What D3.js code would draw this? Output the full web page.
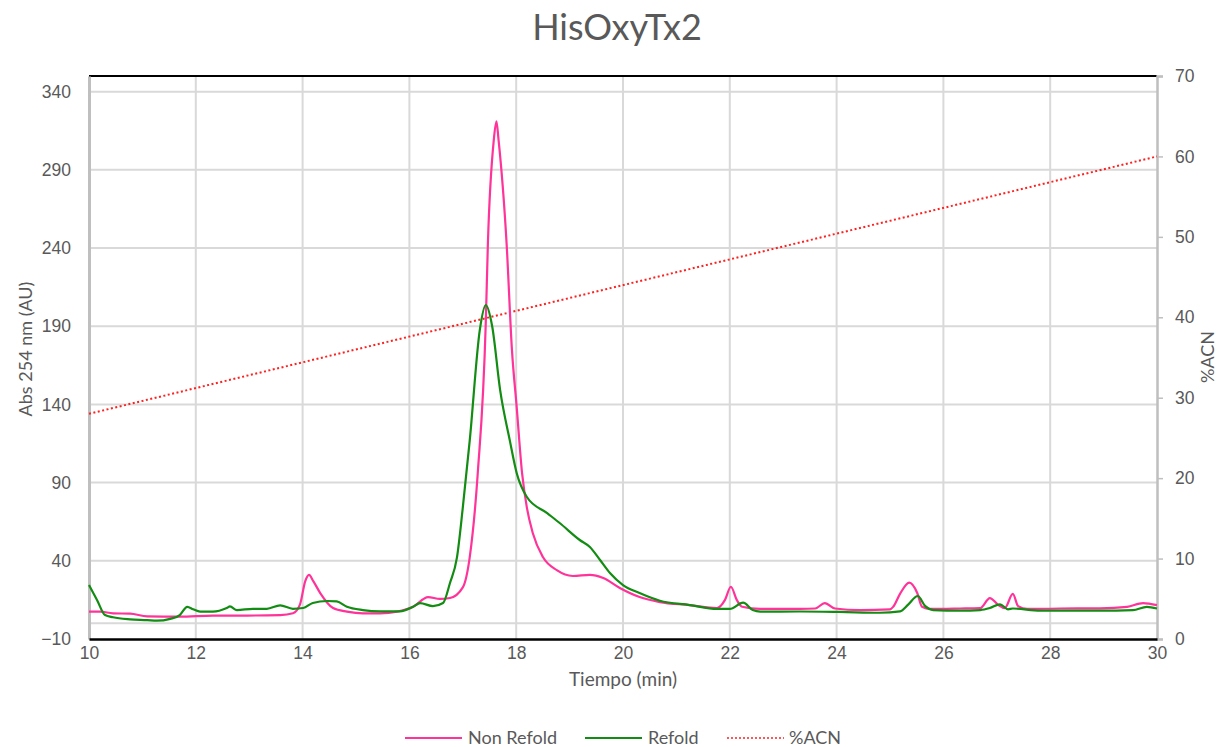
<!DOCTYPE html>
<html>
<head>
<meta charset="utf-8">
<script src="https://cdn.jsdelivr.net/npm/d3@7"></script>
<style>
  html, body { margin: 0; padding: 0; background: #fff; }
  svg { display: block; font-family: Lato, "Open Sans", sans-serif; }
</style>
</head>
<body>
<svg id="chart" width="1225" height="747"></svg>
<script>
// Retention time (min) and absorbance at 254 nm for each run
const nonRefoldTime = [10.00, 10.21, 10.45, 10.77, 11.09, 11.70, 12.32, 12.96, 13.58, 13.82, 13.95, 14.05, 14.12, 14.20, 14.33, 14.57, 14.83, 15.13, 15.45, 15.77, 16.07, 16.35, 16.57, 16.76, 17.00, 17.13, 17.28, 17.43, 17.47, 17.58, 17.63, 17.67, 17.82, 17.92, 18.01, 18.11, 18.20, 18.31, 18.50, 18.76, 19.06, 19.38, 19.63, 19.94, 20.31, 20.69, 21.25, 21.76, 21.91, 22.02, 22.13, 22.23, 22.57, 23.31, 23.60, 23.78, 23.97, 24.44, 25.00, 25.06, 25.19, 25.36, 25.51, 25.60, 25.75, 26.31, 26.69, 26.87, 27.02, 27.15, 27.30, 27.40, 27.57, 28.18, 28.93, 29.44, 29.74, 30.00];
const nonRefoldAbs  = [7.5, 7.5, 6.4, 6.2, 4.5, 4.3, 5.0, 5.0, 5.3, 6.5, 12, 27, 31, 27, 19.4, 9.8, 7.5, 6.4, 6.4, 7.5, 10.6, 16.8, 15.6, 16.2, 23, 42.4, 96, 192, 243, 309, 321, 309, 243, 175, 138, 96, 74, 57.8, 42.4, 34, 30.3, 31, 29, 22.6, 16.8, 13.6, 11.7, 9.8, 15, 23.4, 15, 10.6, 9.2, 9.2, 9.5, 13, 9.5, 8.5, 9, 10.6, 19, 26, 19.4, 10.6, 9.2, 9.5, 9.8, 16.2, 12, 9.8, 18.8, 11, 9.2, 9.5, 9.6, 10.6, 13, 11.7];

const refoldTime = [10.00, 10.15, 10.30, 10.45, 10.77, 11.09, 11.27, 11.52, 11.70, 11.84, 11.95, 12.08, 12.32, 12.58, 12.64, 12.77, 13.07, 13.33, 13.58, 13.82, 14.01, 14.19, 14.46, 14.64, 14.83, 15.13, 15.45, 15.82, 16.07, 16.20, 16.44, 16.63, 16.76, 16.89, 17.00, 17.13, 17.32, 17.43, 17.55, 17.70, 17.88, 18.01, 18.20, 18.58, 18.82, 19.19, 19.38, 19.57, 19.76, 20.00, 20.31, 20.69, 21.25, 21.76, 22.00, 22.25, 22.43, 22.57, 23.31, 24.06, 24.81, 25.19, 25.34, 25.52, 25.66, 25.81, 26.31, 26.69, 26.87, 27.06, 27.21, 27.30, 27.81, 28.93, 29.55, 29.81, 30.00];
const refoldAbs  = [24.5, 15, 5.3, 3.9, 2.6, 2.1, 1.7, 2.9, 5.3, 10.6, 9, 7.5, 7.5, 9.8, 10.8, 8.5, 9.3, 9.3, 11.5, 9.3, 9.8, 13, 14.3, 14, 10.6, 8.5, 7.7, 7.7, 10.6, 13, 11, 13, 25.8, 42, 74, 117, 188, 203.5, 190, 149, 117, 96, 80.8, 70.5, 64, 53.3, 48.8, 40.5, 32, 24.5, 19.4, 14.5, 11.7, 9.2, 9.2, 13.2, 8.5, 7.5, 7.6, 7.3, 6.8, 7.7, 12, 17.5, 11, 8.5, 8.1, 8.5, 9.8, 12.2, 9, 9.5, 8.1, 8.1, 8.5, 10.6, 9.5];

// Acetonitrile gradient (%ACN)
const acnTime = [10, 30];
const acnPct  = [28, 60];

const xTicks = [10, 12, 14, 16, 18, 20, 22, 24, 26, 28, 30];
const yLeftTicks = [-10, 40, 90, 140, 190, 240, 290, 340];
const yRightTicks = [0, 10, 20, 30, 40, 50, 60, 70];

const seriesNames = ["Non Refold", "Refold", "%ACN"];
const seriesColors = ["#ff3399", "#138c13", "#ff2020"];

const svg = d3.select("#chart");
const plotLeft = 89, plotRight = 1157, plotTop = 76, plotBottom = 639;
const textColor = "#595959";

const x = d3.scaleLinear().domain([10, 30]).range([plotLeft, plotRight]);
const yL = d3.scaleLinear().domain([-10, 350]).range([plotBottom, plotTop]);
const yR = d3.scaleLinear().domain([0, 70]).range([plotBottom, plotTop]);

// grid
const grid = svg.append("g");
grid.selectAll("line.h").data(yLeftTicks.filter(d => d > -10).concat([0])).enter().append("line")
  .attr("x1", plotLeft).attr("x2", plotRight)
  .attr("y1", d => yL(d)).attr("y2", d => yL(d))
  .attr("stroke", "#d9d9d9").attr("stroke-width", 2);
grid.selectAll("line.v").data(xTicks.filter(d => d > 10 && d < 30)).enter().append("line")
  .attr("x1", d => x(d)).attr("x2", d => x(d))
  .attr("y1", plotTop).attr("y2", plotBottom)
  .attr("stroke", "#d9d9d9").attr("stroke-width", 2);

// top frame line
svg.append("line").attr("x1", plotLeft).attr("x2", plotRight).attr("y1", plotTop).attr("y2", plotTop)
  .attr("stroke", "#000").attr("stroke-width", 2);

// left axis
const axL = svg.append("g").attr("transform", `translate(${plotLeft},0)`)
  .call(d3.axisLeft(yL).tickValues(yLeftTicks).tickSize(0).tickPadding(18));
axL.select(".domain").attr("stroke", "#bfbfbf").attr("stroke-width", 3);
axL.selectAll("text").attr("fill", textColor).attr("font-size", 17.5);

// right axis
const axR = svg.append("g").attr("transform", `translate(${plotRight},0)`)
  .call(d3.axisRight(yR).tickValues(yRightTicks).tickSize(6).tickPadding(12));
axR.select(".domain").attr("stroke", "#bfbfbf").attr("stroke-width", 2.5);
axR.selectAll(".tick line").attr("stroke", "#bfbfbf").attr("stroke-width", 1.5);
axR.selectAll("text").attr("fill", textColor).attr("font-size", 17.5);

// bottom axis
const axB = svg.append("g").attr("transform", `translate(0,${plotBottom})`)
  .call(d3.axisBottom(x).tickValues(xTicks).tickSize(0).tickPadding(8));
axB.select(".domain").attr("stroke", "#000").attr("stroke-width", 2.5);
axB.selectAll("text").attr("fill", textColor).attr("font-size", 17.5);

// series
const plot = svg.append("g");
const lineL = d3.line().x(d => x(d[0])).y(d => yL(d[1])).curve(d3.curveMonotoneX);
const lineR = d3.line().x(d => x(d[0])).y(d => yR(d[1]));

plot.append("path").datum(d3.zip(acnTime, acnPct))
  .attr("d", lineR).attr("fill", "none")
  .attr("stroke", seriesColors[2]).attr("stroke-width", 2).attr("stroke-dasharray", "2,2.5");
plot.append("path").datum(d3.zip(nonRefoldTime, nonRefoldAbs))
  .attr("d", lineL).attr("fill", "none")
  .attr("stroke", seriesColors[0]).attr("stroke-width", 2.2).attr("stroke-linejoin", "round");
plot.append("path").datum(d3.zip(refoldTime, refoldAbs))
  .attr("d", lineL).attr("fill", "none")
  .attr("stroke", seriesColors[1]).attr("stroke-width", 2.2).attr("stroke-linejoin", "round");

// title and axis titles
svg.append("text").attr("x", 617).attr("y", 40).attr("text-anchor", "middle")
  .attr("fill", textColor).attr("font-size", 36).text("HisOxyTx2");
svg.append("text").attr("x", 623).attr("y", 686).attr("text-anchor", "middle")
  .attr("fill", textColor).attr("font-size", 19).text("Tiempo (min)");
svg.append("text").attr("transform", "translate(32,349) rotate(-90)").attr("text-anchor", "middle")
  .attr("fill", textColor).attr("font-size", 18).text("Abs 254 nm (AU)");
svg.append("text").attr("transform", "translate(1214,357) rotate(-90)").attr("text-anchor", "middle")
  .attr("fill", textColor).attr("font-size", 18).text("%ACN");

// legend
const legendX = [405, 585, 727];
const leg = svg.append("g");
seriesNames.forEach((name, i) => {
  const g = leg.append("g").attr("transform", `translate(${legendX[i]},738)`);
  g.append("line").attr("x1", 0).attr("x2", 57).attr("y1", 0).attr("y2", 0)
    .attr("stroke", seriesColors[i]).attr("stroke-width", i === 2 ? 1.5 : 2.2)
    .attr("stroke-dasharray", i === 2 ? "2,2" : null);
  g.append("text").attr("x", i === 2 ? 62 : 63).attr("y", 6)
    .attr("fill", textColor).attr("font-size", 18).text(name);
});
</script>
</body>
</html>
